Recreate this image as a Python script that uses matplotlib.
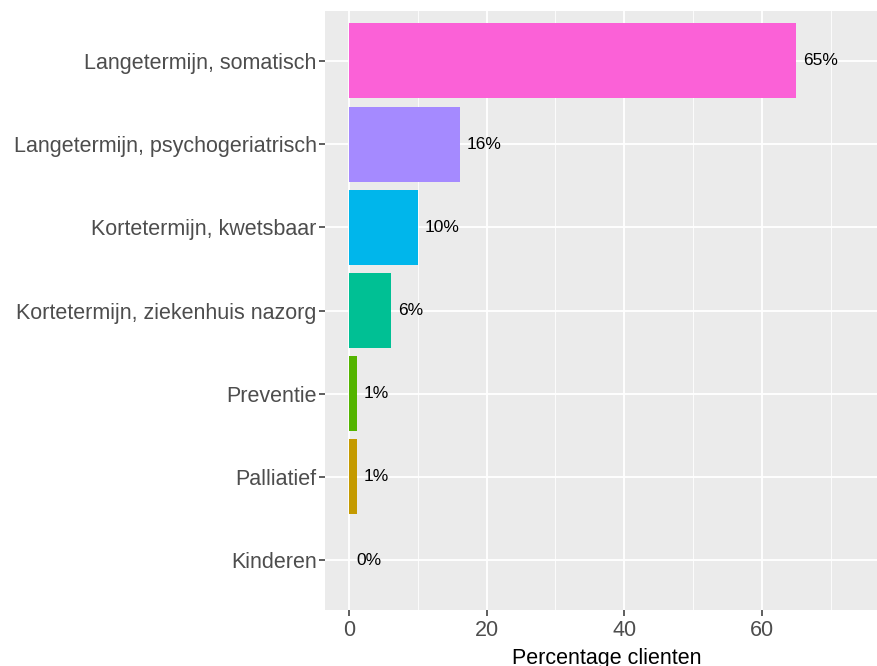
import matplotlib
matplotlib.use("Agg")
import matplotlib.pyplot as plt
from matplotlib.ticker import MultipleLocator

categories = ["Kinderen", "Palliatief", "Preventie", "Kortetermijn, ziekenhuis nazorg",
              "Kortetermijn, kwetsbaar", "Langetermijn, psychogeriatrisch", "Langetermijn, somatisch"]
values = [0.0, 1.1, 1.1, 6.1, 10.0, 16.1, 65.0]
labels = ["0%", "1%", "1%", "6%", "10%", "16%", "65%"]
colors = ["#F8766D", "#C49A00", "#53B400", "#00C094", "#00B6EB", "#A58AFF", "#FB61D7"]
xticks = [0, 20, 40, 60]

plt.rcParams['font.family'] = ['Liberation Sans', 'DejaVu Sans']
W, H = 877, 666
fig = plt.figure(figsize=(W / 100, H / 100), dpi=100)
fig.patch.set_facecolor("white")
left, right, top, bottom = 325, 889, 11, 610
ax = fig.add_axes([left / W, 1 - bottom / H, (right - left) / W, (bottom - top) / H])
ax.set_facecolor("#EBEBEB")

ypos = list(range(1, len(categories) + 1))
ax.barh(ypos, values, height=0.9, color=colors, zorder=3)
for y, v, lab in zip(ypos, values, labels):
    ax.annotate(lab, (v, y), xytext=(5, 0), textcoords="offset points",
                ha="left", va="center", fontsize=12.5, color="black", zorder=4)

ax.set_xlim(-3.5, 78.5)
ax.set_ylim(0.4, 7.6)
ax.set_xticks(xticks)
ax.xaxis.set_minor_locator(MultipleLocator(10))
ax.set_yticks(ypos)
ax.set_yticklabels(categories)
ax.grid(which="major", color="white", linewidth=1.3, zorder=0)
ax.grid(which="minor", axis="x", color="white", linewidth=0.6, zorder=0)
for s in ax.spines.values():
    s.set_visible(False)
ax.tick_params(axis="both", which="major", colors="#333333", labelcolor="#4D4D4D",
               labelsize=15.5, length=4, width=1.1, pad=2)
ax.tick_params(axis="x", which="major", pad=3)
ax.tick_params(axis="x", which="minor", length=0)
ax.set_xlabel("Percentage clienten", fontsize=15.5, color="black", labelpad=5)

fig.savefig("out.png", dpi=100)
